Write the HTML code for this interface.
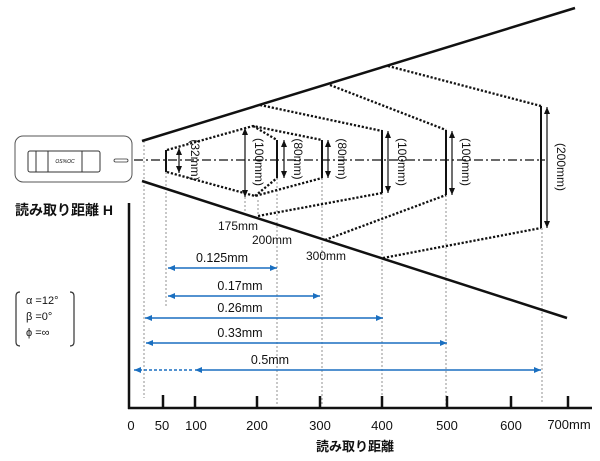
<!DOCTYPE html>
<html><head><meta charset="utf-8"><style>
body{margin:0;background:#fff}
svg{display:block}
text{font-family:"Liberation Sans","Noto Sans CJK JP",sans-serif}
</style></head><body>
<svg width="600" height="461" viewBox="0 0 600 461" xmlns="http://www.w3.org/2000/svg">
<defs>
<marker id="ab" markerWidth="8" markerHeight="8" refX="7" refY="4" orient="auto-start-reverse" markerUnits="userSpaceOnUse"><path d="M0,1 L7,4 L0,7 Z" fill="#1a6fc0"/></marker>
<marker id="ak" markerWidth="8" markerHeight="8" refX="7" refY="4" orient="auto-start-reverse" markerUnits="userSpaceOnUse"><path d="M0,1 L7,4 L0,7 Z" fill="#111"/></marker>
</defs>
<rect x="15" y="136" width="117" height="46" rx="8" fill="#fff" stroke="#555" stroke-width="1"/>
<rect x="28" y="151" width="72" height="21" rx="2" fill="#fff" stroke="#333" stroke-width="1"/>
<line x1="36" y1="151" x2="36" y2="172" stroke="#333"/>
<line x1="48" y1="151" x2="48" y2="172" stroke="#333"/>
<line x1="82" y1="151" x2="82" y2="172" stroke="#333"/>
<text x="65" y="163" font-size="5" text-anchor="middle" font-style="italic">OS%OC</text>
<rect x="114" y="159" width="14" height="3" rx="1.5" fill="none" stroke="#333" stroke-width="0.8"/>
<g stroke="#777" stroke-width="0.8" stroke-dasharray="2,2">
<line x1="144" y1="141" x2="144" y2="398"/>
<line x1="166" y1="172" x2="166" y2="308"/>
<line x1="245" y1="197" x2="245" y2="212"/>
<line x1="258" y1="200" x2="258" y2="216"/>
<line x1="277" y1="178" x2="277" y2="405"/>
<line x1="322" y1="178" x2="322" y2="405"/>
<line x1="382" y1="193" x2="382" y2="405"/>
<line x1="446" y1="195" x2="446" y2="405"/>
<line x1="542" y1="228" x2="542" y2="402"/>
</g>
<line x1="142" y1="141" x2="575" y2="8" stroke="#111" stroke-width="2.5"/>
<line x1="142" y1="181" x2="567" y2="318" stroke="#111" stroke-width="2.5"/>
<line x1="134" y1="160" x2="545" y2="160" stroke="#111" stroke-width="1.3" stroke-dasharray="9,3,2,3"/>
<g fill="none" stroke="#111" stroke-width="2.3" stroke-dasharray="2.2,1.8">
<polyline points="167,150 253,126 322,140"/>
<polyline points="167,172 255,196 322,178"/>
<line x1="253" y1="126" x2="277" y2="140"/>
<line x1="255" y1="196" x2="277" y2="178"/>
<polyline points="260,105 382,131"/>
<polyline points="258,216 382,193"/>
<polyline points="330,85 446,130"/>
<polyline points="325,240 446,195"/>
<polyline points="388,66 541,106"/>
<polyline points="383,258 541,228"/>
</g>
<g stroke="#111" stroke-width="2">
<line x1="166" y1="150" x2="166" y2="172"/>
<line x1="277" y1="140" x2="277" y2="178"/>
<line x1="322" y1="140" x2="322" y2="178"/>
<line x1="382" y1="130" x2="382" y2="193"/>
<line x1="446" y1="130" x2="446" y2="195"/>
<line x1="541" y1="106" x2="541" y2="228"/>
</g>
<g stroke="#111" stroke-width="1.2" marker-start="url(#ak)" marker-end="url(#ak)">
<line x1="179" y1="148" x2="179" y2="173"/>
<line x1="245" y1="128" x2="245" y2="197"/>
<line x1="284" y1="140" x2="284" y2="178"/>
<line x1="328" y1="140" x2="328" y2="178"/>
<line x1="388" y1="131" x2="388" y2="193"/>
<line x1="452" y1="131" x2="452" y2="195"/>
<line x1="547" y1="107" x2="547" y2="228"/>
</g>
<g font-size="12" fill="#111">
<text transform="translate(191,160) rotate(90)" text-anchor="middle">(32mm)</text>
<text transform="translate(255,162) rotate(90)" text-anchor="middle">(100mm)</text>
<text transform="translate(294,159) rotate(90)" text-anchor="middle">(80mm)</text>
<text transform="translate(338,159) rotate(90)" text-anchor="middle">(80mm)</text>
<text transform="translate(398,162) rotate(90)" text-anchor="middle">(100mm)</text>
<text transform="translate(462,162) rotate(90)" text-anchor="middle">(100mm)</text>
<text transform="translate(557,167) rotate(90)" text-anchor="middle">(200mm)</text>
</g>
<g font-size="12" fill="#111">
<text x="218" y="230">175mm</text>
<text x="252" y="244">200mm</text>
<text x="306" y="260">300mm</text>
</g>
<text x="15" y="215" font-size="14" font-weight="bold" fill="#111">読み取り距離 H</text>
<line x1="129" y1="203" x2="129" y2="409" stroke="#111" stroke-width="2.5"/>
<line x1="128" y1="408" x2="592" y2="408" stroke="#111" stroke-width="2.5"/>
<g stroke="#111" stroke-width="2.5">
<line x1="163" y1="395" x2="163" y2="408"/>
<line x1="195" y1="396" x2="195" y2="408"/>
<line x1="257" y1="396" x2="257" y2="408"/>
<line x1="320" y1="396" x2="320" y2="408"/>
<line x1="382" y1="396" x2="382" y2="408"/>
<line x1="447" y1="396" x2="447" y2="408"/>
<line x1="511" y1="396" x2="511" y2="408"/>
<line x1="568" y1="396" x2="568" y2="408"/>
</g>
<g font-size="13" fill="#111" text-anchor="middle">
<text x="131" y="430">0</text>
<text x="162" y="430">50</text>
<text x="196" y="430">100</text>
<text x="257" y="430">200</text>
<text x="320" y="430">300</text>
<text x="382" y="430">400</text>
<text x="447" y="430">500</text>
<text x="511" y="430">600</text>
<text x="569" y="429">700mm</text>
<text x="355" y="451" font-weight="bold">読み取り距離</text>
</g>
<g stroke="#1a6fc0" stroke-width="1.5" fill="none">
<line x1="168" y1="268" x2="277" y2="268" marker-start="url(#ab)" marker-end="url(#ab)"/>
<line x1="168" y1="296" x2="320" y2="296" marker-start="url(#ab)" marker-end="url(#ab)"/>
<line x1="145" y1="318" x2="383" y2="318" marker-start="url(#ab)" marker-end="url(#ab)"/>
<line x1="146" y1="343" x2="447" y2="343" marker-start="url(#ab)" marker-end="url(#ab)"/>
<line x1="134" y1="370" x2="194" y2="370" stroke-dasharray="3,2" marker-start="url(#ab)"/>
<line x1="195" y1="370" x2="541" y2="370" marker-start="url(#ab)" marker-end="url(#ab)"/>
</g>
<g font-size="12.5" fill="#111" text-anchor="middle">
<text x="222" y="262">0.125mm</text>
<text x="240" y="290">0.17mm</text>
<text x="240" y="312">0.26mm</text>
<text x="240" y="337">0.33mm</text>
<text x="270" y="364">0.5mm</text>
</g>
<path d="M20,292 Q16,292 16,296 L16,342 Q16,346 20,346" fill="none" stroke="#333" stroke-width="1.2"/>
<path d="M70,292 Q74,292 74,296 L74,342 Q74,346 70,346" fill="none" stroke="#333" stroke-width="1.2"/>
<g font-size="11" fill="#111">
<text x="26" y="304">α =12°</text>
<text x="26" y="320">β =0°</text>
<text x="26" y="336">ϕ =∞</text>
</g>
</svg>
</body></html>
